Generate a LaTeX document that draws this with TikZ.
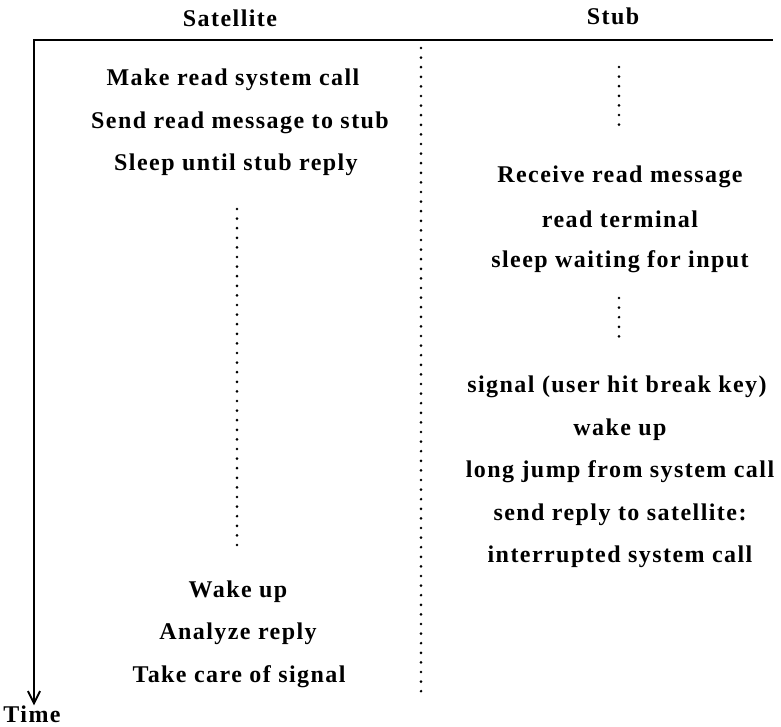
\documentclass[tikz,border=0pt]{standalone}
\usepackage{fontspec}
\setmainfont{Liberation Serif}[LetterSpace=6]
\usetikzlibrary{arrows.meta}
\tikzset{
  hdr/.style  ={font=\fontsize{18}{20}\selectfont\bfseries,inner sep=0pt},
  lbl/.style  ={font=\fontsize{18}{20}\selectfont\bfseries,inner sep=0pt},
  dotln/.style={line width=2.2pt,line cap=round,dash pattern=on 0pt off 7.2pt},
  axis/.style ={line width=1.4pt,-{Straight Barb[length=3.2mm,width=3.2mm]}},
}

\begin{document}
\begin{tikzpicture}[x=0.75pt,y=-0.75pt]
\useasboundingbox (0,0) rectangle (781,726);

% column heads
\node[hdr] (sat)  at (230,18) {Satellite};
\node[hdr] (stub) at (613,16) {Stub};
\draw[line width=1.4pt] (33,40) -- (773,40);

% satellite side
\node[lbl] (s1) at (233,80)  {Make read system call};
\node[lbl] (s2) at (240,123) {Send read message to stub};
\node[lbl] (s3) at (236,165) {Sleep until stub reply};
\node[lbl] (s4) at (238,592) {Wake up};
\node[lbl] (s5) at (238,634) {Analyze reply};
\node[lbl] (s6) at (239,677) {Take care of signal};
\draw[dotln] (237,209) -- (237,546);

% stub side
\node[lbl] (t1) at (620,177) {Receive read message};
\node[lbl] (t2) at (620,219) {read terminal};
\node[lbl] (t3) at (620,262) {sleep waiting for input};
\node[lbl] (t4) at (617,387) {signal (user hit break key)};
\node[lbl] (t5) at (620,430) {wake up};
\node[lbl] (t6) at (620,472) {long jump from system call};
\node[lbl] (t7) at (620,515) {send reply to satellite:};
\node[lbl] (t8) at (620,557) {interrupted system call};
\draw[dotln] (619,67) -- (619,129);
\draw[dotln] (619,298) -- (619,345);

% divider
\draw[dotln] (421,48) -- (421,700);

% time axis
\node[hdr] (time) at (32,714) {Time};
\coordinate (o) at (34,40);
\draw[axis] (o) -- (o |- time.north);
\end{tikzpicture}
\end{document}
